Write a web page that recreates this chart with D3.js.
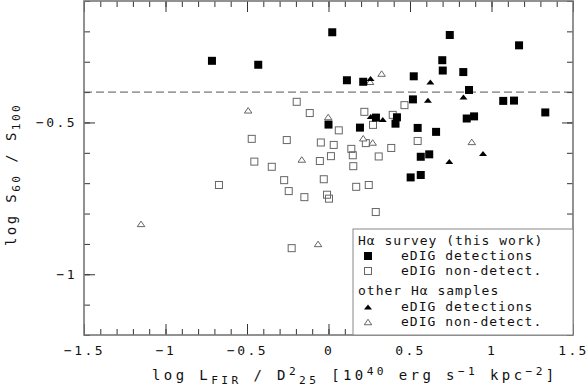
<!DOCTYPE html>
<html>
<head>
<meta charset="utf-8">
<script src="https://cdn.jsdelivr.net/npm/d3@7"></script>
<style>
  body { margin: 0; background: #fff; }
  text { font-family: 'DejaVu Sans Mono', monospace; fill: #111; }
</style>
</head>
<body>
<div id="graphics"></div>
<script>
// Ha survey (this work), eDIG detections  [log LFIR/D25^2, log S60/S100]
const surveyDetections = [
  [-0.715, -0.297], [-0.431, -0.310], [0.023, -0.203], [0.113, -0.361],
  [0.213, -0.366], [0.744, -0.212], [1.169, -0.246], [0.698, -0.295],
  [0.701, -0.329], [0.827, -0.334], [0.523, -0.348], [0.862, -0.393],
  [0.518, -0.424], [1.072, -0.429], [1.138, -0.428], [1.330, -0.467],
  [0.848, -0.487], [0.893, -0.480], [0.547, -0.518], [0.660, -0.531],
  [0.566, -0.613], [0.618, -0.605], [0.504, -0.681], [0.566, -0.673],
  [0.420, -0.483], [0.411, -0.504], [0.291, -0.484], [0.000, -0.507],
  [0.193, -0.517]
];
// Ha survey (this work), eDIG non-detections
const surveyNonDetections = [
  [-0.195, -0.432], [-0.115, -0.469], [0.220, -0.465], [0.394, -0.475],
  [0.273, -0.508], [0.063, -0.526], [-0.471, -0.554], [-0.256, -0.558],
  [-0.047, -0.566], [0.032, -0.574], [0.140, -0.587], [0.229, -0.568],
  [0.385, -0.584], [-0.455, -0.629], [-0.348, -0.646], [-0.053, -0.627],
  [0.015, -0.611], [0.149, -0.608], [0.308, -0.612], [0.152, -0.644],
  [-0.672, -0.706], [-0.272, -0.690], [-0.029, -0.687], [-0.244, -0.726],
  [-0.148, -0.746], [-0.009, -0.738], [0.003, -0.751], [0.170, -0.712],
  [0.247, -0.706], [0.290, -0.795], [-0.226, -0.914], [0.466, -0.443],
  [0.547, -0.561]
];
// other Ha samples, eDIG detections
const otherDetections = [
  [0.258, -0.355], [0.625, -0.367], [0.610, -0.427], [0.828, -0.416],
  [0.259, -0.480], [0.333, -0.490], [0.741, -0.629], [0.948, -0.602]
];
// other Ha samples, eDIG non-detections
const otherNonDetections = [
  [-1.150, -0.834], [-0.493, -0.460], [-0.002, -0.482], [0.213, -0.552],
  [0.271, -0.566], [-0.164, -0.622], [-0.064, -0.900], [0.879, -0.564],
  [0.326, -0.339], [0.255, -0.366]
];

const thresholdY = -0.4;
const xDomain = [-1.5, 1.5];
const yDomain = [-1.2, -0.1];
const xMajor = [-1.5, -1, -0.5, 0, 0.5, 1, 1.5];
const yMajor = [-1, -0.5];
const xMinor = d3.range(-15, 16).map((i) => i / 10);
const yMinor = d3.range(-12, 0).map((i) => i / 10);

const legendRows = [
  { label: 'Hα survey (this work)', symbol: null },
  { label: 'eDIG detections', symbol: 'fsq' },
  { label: 'eDIG non-detect.', symbol: 'osq' },
  { label: 'other Hα samples', symbol: null },
  { label: 'eDIG detections', symbol: 'ftri' },
  { label: 'eDIG non-detect.', symbol: 'otri' }
];

const W = 588, H = 387;
const m = { left: 84, right: 573, top: 1, bottom: 335 };

const svg = d3.select('#graphics').append('svg')
  .attr('width', W).attr('height', H);

const x = d3.scaleLinear().domain(xDomain).range([m.left, m.right]);
const y = d3.scaleLinear().domain(yDomain).range([m.bottom, m.top]);

const fmt = (d) => (d < 0 ? '\u2212' : '') + String(Math.abs(d));

// ticks on all four sides, pointing inward
function drawAxis(axisFn, scale, values, size, pos, pad) {
  const g = svg.append('g')
    .attr('transform', pos)
    .call(axisFn(scale).tickValues(values).tickSize(-size)
      .tickPadding(pad || 0)
      .tickFormat(pad ? fmt : ''));
  g.select('.domain').remove();
  g.selectAll('.tick line').attr('stroke', '#333');
  g.selectAll('.tick text')
    .attr('font-size', 13).attr('letter-spacing', 2.4)
    .style('font-family', "'DejaVu Sans Mono', monospace").attr('fill', '#111');
  return g;
}
drawAxis(d3.axisBottom, x, xMinor, 6, `translate(0,${m.bottom})`, 0);
drawAxis(d3.axisBottom, x, xMajor, 11, `translate(0,${m.bottom})`, 11);
drawAxis(d3.axisTop, x, xMinor, 6, `translate(0,${m.top})`, 0);
drawAxis(d3.axisTop, x, xMajor, 11, `translate(0,${m.top})`, 0);
drawAxis(d3.axisLeft, y, yMinor, 6, `translate(${m.left},0)`, 0);
drawAxis(d3.axisLeft, y, yMajor, 11, `translate(${m.left},0)`, 7);
drawAxis(d3.axisRight, y, yMinor, 6, `translate(${m.right},0)`, 0);
drawAxis(d3.axisRight, y, yMajor, 11, `translate(${m.right},0)`, 0);

// frame
svg.append('rect')
  .attr('x', m.left).attr('y', m.top)
  .attr('width', m.right - m.left).attr('height', m.bottom - m.top)
  .attr('fill', 'none').attr('stroke', '#777').attr('stroke-width', 1.6);

// threshold line
svg.append('line')
  .attr('x1', x(xDomain[0])).attr('x2', x(xDomain[1]))
  .attr('y1', y(thresholdY)).attr('y2', y(thresholdY))
  .attr('stroke', '#555').attr('stroke-dasharray', '8,4');

// marker shapes
const tri = (w, h) => `M${-w / 2},${h / 2}L${w / 2},${h / 2}L0,${-h / 2}Z`;
function drawMarker(sel, kind) {
  if (kind === 'fsq') {
    sel.append('rect').attr('x', -4).attr('y', -4).attr('width', 8).attr('height', 8)
      .attr('fill', '#000');
  } else if (kind === 'osq') {
    sel.append('rect').attr('x', -3.5).attr('y', -3.5).attr('width', 7).attr('height', 7)
      .attr('fill', 'none').attr('stroke', '#666').attr('stroke-width', 1);
  } else if (kind === 'ftri') {
    sel.append('path').attr('d', tri(8, 5)).attr('fill', '#000');
  } else {
    sel.append('path').attr('d', tri(7.5, 5.5))
      .attr('fill', '#fff').attr('stroke', '#555').attr('stroke-width', 0.9);
  }
}
function drawSeries(data, kind) {
  svg.append('g').selectAll('g').data(data).join('g')
    .attr('transform', (d) => `translate(${x(d[0])},${y(d[1])})`)
    .each(function () { drawMarker(d3.select(this), kind); });
}
drawSeries(surveyNonDetections, 'osq');
drawSeries(otherNonDetections, 'otri');
drawSeries(surveyDetections, 'fsq');
drawSeries(otherDetections, 'ftri');

// legend
const lg = svg.append('g');
lg.append('rect')
  .attr('x', 353).attr('y', 229).attr('width', m.right - 353).attr('height', m.bottom - 229)
  .attr('fill', '#fff').attr('stroke', '#888').attr('stroke-width', 1);
const rowY = [245, 260, 275, 295, 311, 326];
legendRows.forEach((r, i) => {
  if (r.symbol) {
    drawMarker(lg.append('g').attr('transform', `translate(368,${rowY[i] - 4})`), r.symbol);
  }
  lg.append('text')
    .attr('x', r.symbol ? 401 : 358).attr('y', rowY[i])
    .attr('font-size', 13).attr('letter-spacing', 1)
    .text(r.label);
});

// axis titles with sub/superscripts
function richText(el, parts, base) {
  let shift = 0;
  parts.forEach(([t, s]) => {
    const target = s === 'sub' ? 4 : s === 'sup' ? -5 : 0;
    el.append('tspan')
      .attr('dy', target - shift)
      .attr('font-size', s ? base * 0.8 : base)
      .text(t);
    shift = target;
  });
}
const xt = svg.append('text').attr('x', 152).attr('y', 380).attr('font-size', 14)
  .attr('letter-spacing', 3.4);
richText(xt, [['log L'], ['FIR', 'sub'], [' / D'], ['2', 'sup'], ['25', 'sub'],
  [' [10'], ['40', 'sup'], [' erg s'], ['\u22121', 'sup'], [' kpc'], ['\u22122', 'sup'], [']']], 14);

const yt = svg.append('text').attr('transform', 'translate(16,246) rotate(-90)')
  .attr('font-size', 14).attr('letter-spacing', 2.4);
richText(yt, [['log S'], ['60', 'sub'], [' / S'], ['100', 'sub']], 14);
</script>
</body>
</html>
